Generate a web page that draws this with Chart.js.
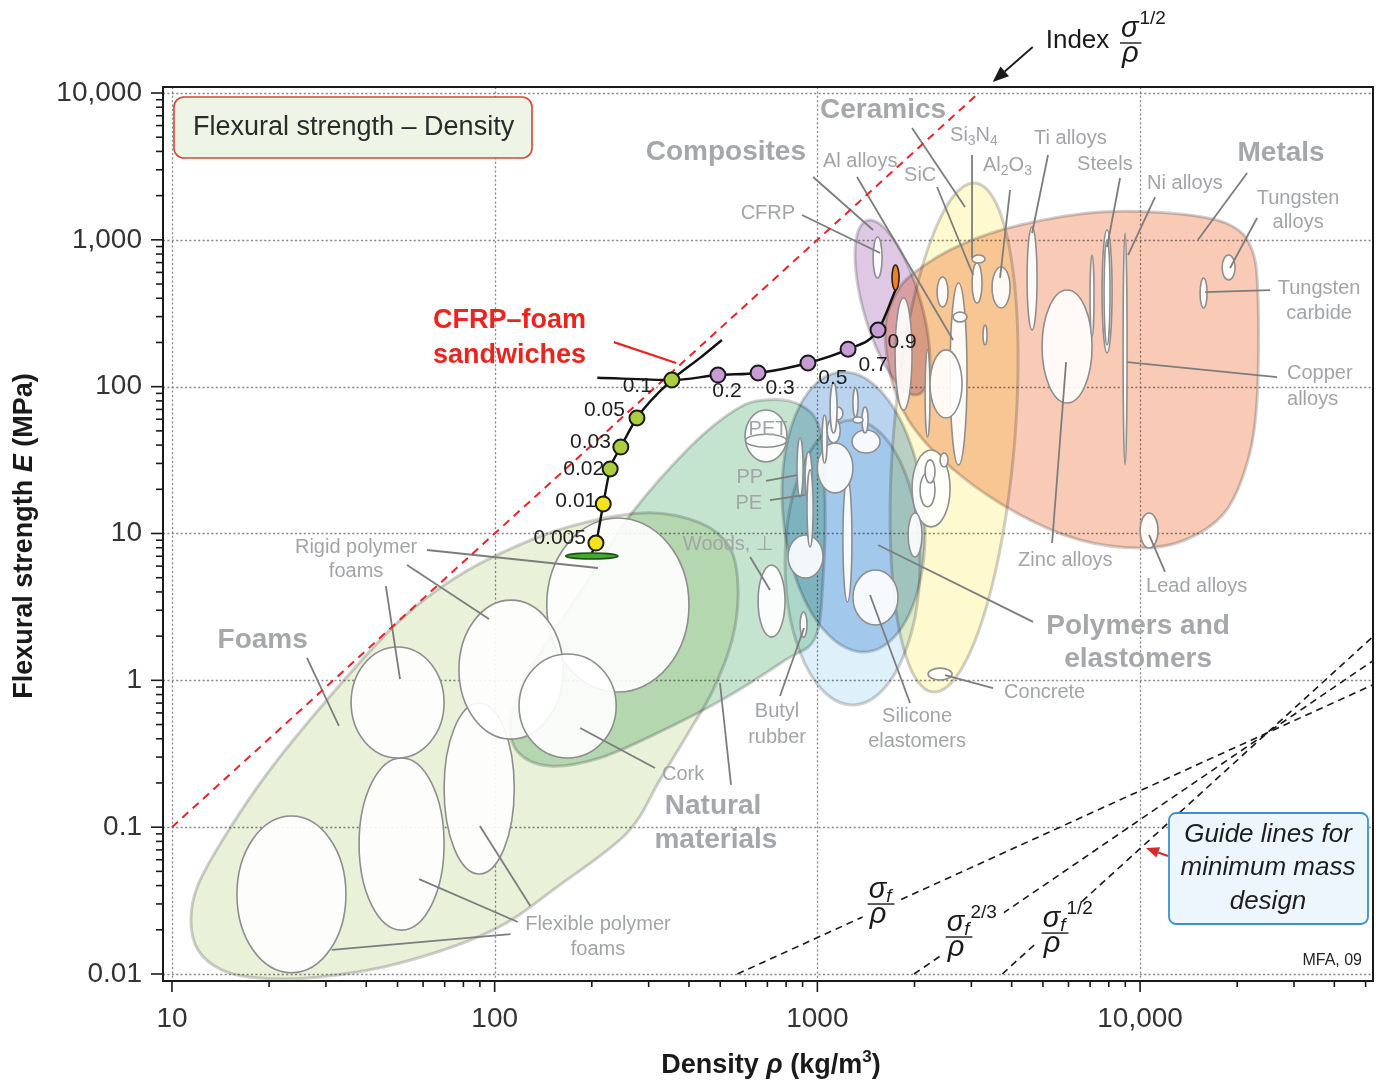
<!DOCTYPE html>
<html>
<head>
<meta charset="utf-8">
<title>Flexural strength – Density</title>
<script src="https://cdn.jsdelivr.net/npm/chart.js@4.4.1/dist/chart.umd.min.js"></script>
<style>
  html, body { margin: 0; padding: 0; background: #ffffff; }
  canvas { display: block; }
</style>
</head>
<body>
<canvas id="chart" width="1383" height="1090"></canvas>
<script>
// ---- Axis ranges and ticks (density in kg/m3, flexural strength in MPa) ----
const densityRange = [9.38, 52700];
const strengthRange = [0.00896, 10986];
const densityTicks = [10, 100, 1000, 10000];
const densityTickLabels = ['10', '100', '1000', '10,000'];
const strengthTicks = [0.01, 0.1, 1, 10, 100, 1000, 10000];
const strengthTickLabels = ['0.01', '0.1', '1', '10', '100', '1,000', '10,000'];

// ---- Family envelopes given by their property ranges (drawn as ellipses) ----
const familyNames = ['Elastomers', 'Polymers', 'Composites', 'Ceramics'];
const familyDensity = [[794, 2080], [777, 2157], [1308, 2234], [1680, 4188]];
const familyStrength = [[0.679, 59.3], [1.56, 126], [87.7, 1364], [0.832, 2438]];
const familyTilt = [0, -8, -37, 18];

// ---- Family envelopes traced as closed outlines (density, strength) ----
const foamsDensity = [288, 433, 536, 568, 544, 475, 403, 325, 257, 159, 98.8, 50.9, 28.8, 18.7, 14.3, 12.04, 11.45, 12.04, 14.8, 20.1, 30.2, 48.4, 67.7, 98.8, 165];
const foamsStrength = [13.8, 11.8, 7.96, 4.12, 1.88, 0.859, 0.459, 0.210, 0.0912, 0.0404, 0.0199, 0.01188, 0.00954, 0.00939, 0.01064, 0.0146, 0.0233, 0.0404, 0.0912, 0.245, 0.735, 2.31, 4.25, 6.92, 10.9];
const naturalDensity = [688, 884, 1019, 1056, 1041, 984, 794, 525, 325, 212, 148, 118, 112, 126, 165, 212, 266, 403, 556];
const naturalStrength = [81.2, 75.0, 50.7, 16.9, 4.82, 1.94, 1.37, 0.770, 0.445, 0.296, 0.261, 0.325, 0.537, 1.087, 2.79, 6.39, 13.8, 38.8, 69.3];
const metalsDensity = [1621, 1741, 2008, 2768, 4247, 7516, 13302, 19006, 22241, 23214, 23048, 21613, 18339, 13786, 10000, 6516, 4247, 2768, 2008, 1716];
const metalsStrength = [243, 421, 604, 922, 1262, 1547, 1499, 1262, 852, 389, 81.2, 31.7, 14.0, 9.03, 7.96, 9.03, 13.4, 25.0, 50.7, 102.6];

// ---- Individual material bubbles: density range and strength range ----
const bubbleDensity = [
  [145, 400], [15.9, 34.6], [38.0, 69.7], [69.7, 115], [35.9, 69.7], [77.5, 163], [119, 238],
  [597, 805], [655, 794], [884, 929],
  [1289, 1778], [811, 1041], [1200, 1280], [865, 903], [916, 963], [929, 970], [1000, 1289], [1072, 1177],
  [1280, 1564], [1118, 1200], [1095, 1151], [1289, 1337], [1375, 1436], [1289, 1385], [1034, 1072],
  [1965, 2577], [2080, 2315], [2157, 2315], [2400, 2541], [1910, 2110],
  [1488, 1587],
  [1741, 1965], [2157, 2234], [2577, 2909], [2234, 2807], [2349, 2541], [2633, 2909], [3015, 3238], [3015, 3308], [3478, 3955], [3261, 3356],
  [4465, 4795], [4969, 7100], [6998, 7200], [7624, 8189], [7734, 8072], [8858, 9115], [15346, 16131], [17955, 19700], [10000, 11370], [2203, 2615]
];
const bubbleStrength = [
  [0.832, 12.75], [0.0102, 0.119], [0.0199, 0.296], [0.048, 0.701], [0.296, 1.686], [0.398, 3.52], [0.296, 1.511],
  [30.7, 69.3], [1.97, 6.10], [1.97, 2.92],
  [2.38, 5.64], [4.98, 9.77], [3.42, 23.9], [17.7, 44.7], [16.9, 35.9], [8.09, 27.1], [18.9, 41.3], [41.3, 61.2],
  [35.3, 50.7], [59.3, 72.7], [48.3, 106], [62.1, 97.9], [48.3, 72.7], [56.6, 62.1], [30.2, 64.1],
  [11.1, 37.0], [15.2, 25.8], [22.1, 31.7], [28.4, 35.3], [6.92, 13.8],
  [550, 1045],
  [69.3, 402], [45.4, 178], [29.3, 508], [61.2, 178], [349, 558], [276, 322], [371, 695], [695, 788], [343, 653], [192, 263],
  [243, 1223], [77.4, 455], [218, 788], [170, 1167], [192, 1000], [29.3, 1113], [343, 550], [533, 788], [7.96, 13.8], [1.005, 1.21]
];
const petBubble = 7;

// ---- CFRP–foam sandwich: face-thickness fraction, density, strength ----
const faceFraction = ['0.005', '0.01', '0.02', '0.03', '0.05', '0.1', '0.2', '0.3', '0.5', '0.7', '0.9'];
const sandwichDensity = [206, 217, 228, 246, 276, 354, 492, 655, 935, 1245, 1542];
const sandwichStrength = [8.61, 15.9, 27.5, 38.8, 61.2, 111, 120, 124, 145, 180, 243];
const foamCoreDensity = [166, 241];
const foamCoreStrength = [6.70, 7.36];
const cfrpFaceDensity = [1703, 1791];
const cfrpFaceStrength = [455, 674];
const coreTrendDensity = [433, 506];
const coreTrendStrength = [157, 208];
const faceTrendDensity = [208];
const faceTrendStrength = [115];

// ---- Index line sigma^1/2 / rho and minimum-mass guide lines ----
const indexLineDensity = [10, 3162];
const indexLineStrength = [0.1, 10000];
const guideExponent = ['', '2/3', '1/2'];
const guideDensity = [[565, 52700], [1992, 52700], [3741, 52700]];
const guideStrength = [[0.01, 0.933], [0.01, 1.361], [0.01, 1.985]];
const guideLabelDensity = [1575, 2748, 5452];
const guideLabelStrength = [0.02996, 0.01786, 0.0190];

// ---- Annotation text and anchors (density, strength) ----
const groupLabels = ['Ceramics', 'Composites', 'Metals', 'Foams', 'Natural', 'materials', 'Polymers and', 'elastomers'];
const groupLabelDensity = [1019, 922, 27350, 19.1, 475, 485, 9858, 9858];
const groupLabelStrength = [7660, 3965, 3903, 1.88, 0.139, 0.0818, 2.34, 1.40];
const groupLabelAlign = ['left', 'right', 'center', 'center', 'center', 'center', 'center', 'center'];

const materialLabels = ['CFRP', 'Al alloys', 'SiC', 'Si_3N_4', 'Al_2O_3', 'Ti alloys', 'Steels', 'Ni alloys',
  'Tungsten', 'alloys', 'Tungsten', 'carbide', 'Copper', 'alloys', 'Zinc alloys', 'Lead alloys', 'Concrete',
  'Silicone', 'elastomers', 'Butyl', 'rubber', 'Cork', 'Woods, ⊥', 'PP', 'PE', 'PET',
  'Rigid polymer', 'foams', 'Flexible polymer', 'foams'];
const materialLabelDensity = [853, 1041, 1856, 2577, 3261, 4693, 6378, 10513,
  30880, 30880, 35870, 35870, 28540, 28540, 4188, 10437, 3789,
  2037, 2037, 750, 750, 330, 383, 679, 674, 703,
  37.2, 37.2, 209, 209];
const materialLabelStrength = [1523, 3443, 2764, 5176, 3232, 4862, 3283, 2401,
  1927, 1322, 463, 317.5, 122, 82.4, 6.60, 4.39, 0.832,
  0.563, 0.386, 0.609, 0.411, 0.230, 8.48, 23.9, 16.1, 50.7,
  8.09, 5.47, 0.0216, 0.0148];
const materialLabelAlign = ['right', 'left', 'left', 'left', 'left', 'left', 'left', 'left',
  'center', 'center', 'center', 'center', 'left', 'left', 'left', 'left', 'left',
  'center', 'center', 'center', 'center', 'left', 'left', 'right', 'right', 'center',
  'center', 'center', 'center', 'center'];

const leaderDensity = [[896, 1564], [1327, 2633], [970, 1488], [1965, 2868], [2349, 3037], [3015, 3015], [3955, 3682],
  [5186, 4627], [8670, 7901], [11130, 9180], [21460, 15120], [23050, 19006], [25290, 15900], [26580, 9115],
  [5338, 5898], [11950, 10665], [4660, 1542], [3502, 2487], [1937, 1456], [766, 909], [314, 184], [540, 499],
  [619, 713], [693, 865], [713, 916], [61.7, 209], [53.5, 96.0], [46.0, 50.9], [26.2, 32.9],
  [118, 58.3], [129, 90], [112, 31.3]];
const leaderStrength = [[1476, 813], [2679, 208], [2679, 1167], [5776, 1673], [2290, 576], [3782, 752], [2184, 550],
  [3782, 1113], [2637, 894], [1957, 788], [2852, 1000], [1408, 643], [455, 441], [116, 147],
  [8.61, 147], [5.47, 9.77], [2.50, 8.35], [0.886, 1.087], [0.701, 3.81], [0.782, 2.27], [0.253, 0.473], [0.194, 0.959],
  [6.92, 4.12], [22.8, 25.0], [16.9, 18.3], [7.72, 5.82], [6.10, 2.62], [4.39, 1.02], [1.42, 0.489],
  [0.0226, 0.0443], [0.0290, 0.102], [0.0187, 0.0146]];

const sandwichTitle = ['CFRP–foam', 'sandwiches'];
const sandwichTitleDensity = [64.4, 64.4];
const sandwichTitleStrength = [280, 164];
const sandwichLeaderDensity = [234, 365];
const sandwichLeaderStrength = [201, 145];

// ---- Styling ----
const FONT = '"Liberation Sans", Arial, Helvetica, sans-serif';
const font = (size, style) => (style ? style + ' ' : '') + size + 'px ' + FONT;
const familyFill = ['rgb(222,241,251)', 'rgb(186,212,240)', 'rgb(222,200,228)', 'rgb(254,249,206)'];
const foamsFill = 'rgb(233,241,216)';
const naturalFill = 'rgb(197,228,207)';
const metalsFill = 'rgb(249,203,182)';
const fractionColor = ['#f4e31c', '#f4e31c', '#abce3c', '#abce3c', '#abce3c', '#abce3c', '#c79bd3', '#c79bd3', '#c79bd3', '#c79bd3', '#c79bd3'];
const fractionLabelOffset = [[-10, -5, 'right'], [-7, -3, 'right'], [-6, 0, 'right'], [-10, -5, 'right'], [-12, -8, 'right'],
  [-20, 6, 'right'], [9, 16, 'center'], [22, 15, 'center'], [25, 15, 'center'], [25, 16, 'center'], [24, 12, 'center']];

// ---- Drawing helpers ----
function toPx(chart, d, s) {
  return [chart.scales.x.getPixelForValue(d), chart.scales.y.getPixelForValue(s)];
}
function boxFromRanges(chart, dr, sr) {
  const x1 = chart.scales.x.getPixelForValue(dr[0]), x2 = chart.scales.x.getPixelForValue(dr[1]);
  const y1 = chart.scales.y.getPixelForValue(sr[0]), y2 = chart.scales.y.getPixelForValue(sr[1]);
  return { cx: (x1 + x2) / 2, cy: (y1 + y2) / 2, rx: Math.abs(x2 - x1) / 2, ry: Math.abs(y2 - y1) / 2 };
}
// ellipse inscribed in a property box; tilt skews it along the diagonal
function rangeEllipse(ctx, chart, dr, sr, tiltDeg) {
  const b = boxFromRanges(chart, dr, sr);
  ctx.beginPath();
  if (!tiltDeg) { ctx.ellipse(b.cx, b.cy, b.rx, b.ry, 0, 0, Math.PI * 2); return; }
  const t0 = tiltDeg * Math.PI / 180;
  for (let i = 0; i <= 160; i++) {
    const t = i / 160 * Math.PI * 2;
    const X = b.cx + b.rx * Math.cos(t), Y = b.cy - b.ry * Math.sin(t + t0);
    if (i === 0) ctx.moveTo(X, Y); else ctx.lineTo(X, Y);
  }
  ctx.closePath();
}
// smooth closed curve through outline points
function smoothOutline(ctx, chart, dens, str) {
  const p = dens.map((d, i) => toPx(chart, d, str[i]));
  const n = p.length;
  ctx.beginPath();
  ctx.moveTo(p[0][0], p[0][1]);
  for (let i = 0; i < n; i++) {
    const p0 = p[(i - 1 + n) % n], p1 = p[i], p2 = p[(i + 1) % n], p3 = p[(i + 2) % n];
    ctx.bezierCurveTo(p1[0] + (p2[0] - p0[0]) / 6, p1[1] + (p2[1] - p0[1]) / 6,
                      p2[0] - (p3[0] - p1[0]) / 6, p2[1] - (p3[1] - p1[1]) / 6, p2[0], p2[1]);
  }
  ctx.closePath();
}
// text with single-character subscripts written as _x
function drawRich(ctx, s, x, y, size, align, color, weight) {
  const parts = [];
  for (let i = 0; i < s.length; i++) {
    if (s[i] === '_') { parts.push({ t: s[i + 1], sub: true }); i++; }
    else if (parts.length && !parts[parts.length - 1].sub) parts[parts.length - 1].t += s[i];
    else parts.push({ t: s[i], sub: false });
  }
  const fMain = font(size, weight), fSub = font(Math.round(size * 0.68), weight);
  let w = 0;
  parts.forEach(p => { ctx.font = p.sub ? fSub : fMain; p.w = ctx.measureText(p.t).width; w += p.w; });
  let x0 = align === 'left' ? x : align === 'right' ? x - w : x - w / 2;
  ctx.fillStyle = color; ctx.textAlign = 'left'; ctx.textBaseline = 'middle';
  parts.forEach(p => { ctx.font = p.sub ? fSub : fMain; ctx.fillText(p.t, x0, p.sub ? y + size * 0.32 : y); x0 += p.w; });
}
function drawRuns(ctx, runs, x, y) {
  let total = 0;
  runs.forEach(r => { ctx.font = r.f; r.w = ctx.measureText(r.t).width; total += r.w; });
  let cx = x - total / 2;
  runs.forEach(r => { ctx.font = r.f; ctx.fillText(r.t, cx, y + (r.dy || 0)); cx += r.w; });
}
function roundRect(ctx, x, y, w, h, r) {
  ctx.beginPath();
  ctx.moveTo(x + r, y); ctx.lineTo(x + w - r, y); ctx.arcTo(x + w, y, x + w, y + r, r);
  ctx.lineTo(x + w, y + h - r); ctx.arcTo(x + w, y + h, x + w - r, y + h, r);
  ctx.lineTo(x + r, y + h); ctx.arcTo(x, y + h, x, y + h - r, r);
  ctx.lineTo(x, y + r); ctx.arcTo(x, y, x + r, y, r);
  ctx.closePath();
}
function arrow(ctx, x1, y1, x2, y2, color, lw, head, width) {
  const ang = Math.atan2(y2 - y1, x2 - x1);
  const bx = x2 - head * Math.cos(ang), by = y2 - head * Math.sin(ang);
  ctx.strokeStyle = color; ctx.fillStyle = color; ctx.lineWidth = lw;
  ctx.beginPath(); ctx.moveTo(x1, y1); ctx.lineTo(bx, by); ctx.stroke();
  ctx.beginPath(); ctx.moveTo(x2, y2);
  ctx.lineTo(bx + width / 2 * Math.sin(ang), by - width / 2 * Math.cos(ang));
  ctx.lineTo(bx - width / 2 * Math.sin(ang), by + width / 2 * Math.cos(ang));
  ctx.closePath(); ctx.fill();
}
// sigma_f^(n) over rho, with its bar centred on (cx, cy)
function drawFraction(ctx, cx, cy, sup, withSub, erase) {
  ctx.font = font(29, 'italic'); const ws = ctx.measureText('σ').width;
  ctx.font = font(19, 'italic'); const wf = withSub ? ctx.measureText('f').width : 0;
  ctx.font = font(19); const wsup = sup ? ctx.measureText(sup).width : 0;
  const barW = ws + wf + 4;
  const x0 = cx - barW / 2;
  if (erase) { ctx.fillStyle = '#ffffff'; ctx.fillRect(x0 - 5, cy - 31, barW + wsup + 10, 58); }
  ctx.fillStyle = '#1a1a1a'; ctx.textAlign = 'left'; ctx.textBaseline = 'alphabetic';
  ctx.font = font(29, 'italic'); ctx.fillText('σ', x0 + 1, cy - 6);
  if (withSub) { ctx.font = font(19, 'italic'); ctx.fillText('f', x0 + ws + 1, cy - 2); }
  if (sup) { ctx.font = font(19); ctx.fillText(sup, x0 + ws + wf + 2, cy - 19); }
  ctx.font = font(29, 'italic'); ctx.fillText('ρ', x0 + 2, cy + 19);
  ctx.strokeStyle = '#1a1a1a'; ctx.lineWidth = 1.4;
  ctx.beginPath(); ctx.moveTo(x0, cy); ctx.lineTo(x0 + barW, cy); ctx.stroke();
}

// ---- Background layers: grid, envelopes, bubbles, annotations ----
const ashbyLayers = {
  id: 'ashbyLayers',
  beforeDraw(chart) {
    const c = chart.ctx;
    c.save(); c.fillStyle = '#ffffff'; c.fillRect(0, 0, chart.width, chart.height); c.restore();
  },
  beforeDatasetsDraw(chart) {
    const ctx = chart.ctx, a = chart.chartArea, xs = chart.scales.x, ys = chart.scales.y;
    ctx.save();
    ctx.beginPath(); ctx.rect(a.left, a.top, a.width, a.height); ctx.clip();

    // dotted decade grid
    ctx.strokeStyle = 'rgba(115,115,115,0.85)'; ctx.lineWidth = 1.3; ctx.setLineDash([2, 2.4]);
    densityTicks.forEach(v => {
      const p = Math.round(xs.getPixelForValue(v)) + 0.5;
      ctx.beginPath(); ctx.moveTo(p, a.top); ctx.lineTo(p, a.bottom); ctx.stroke();
    });
    strengthTicks.forEach(v => {
      const p = Math.round(ys.getPixelForValue(v)) + 0.5;
      ctx.beginPath(); ctx.moveTo(a.left, p); ctx.lineTo(a.right, p); ctx.stroke();
    });
    ctx.setLineDash([]);

    // envelopes, blended so overlaps darken
    const paths = [
      () => smoothOutline(ctx, chart, foamsDensity, foamsStrength),
      () => smoothOutline(ctx, chart, naturalDensity, naturalStrength),
      () => rangeEllipse(ctx, chart, familyDensity[0], familyStrength[0], familyTilt[0]),
      () => rangeEllipse(ctx, chart, familyDensity[1], familyStrength[1], familyTilt[1]),
      () => rangeEllipse(ctx, chart, familyDensity[2], familyStrength[2], familyTilt[2]),
      () => rangeEllipse(ctx, chart, familyDensity[3], familyStrength[3], familyTilt[3]),
      () => smoothOutline(ctx, chart, metalsDensity, metalsStrength)
    ];
    const fills = [foamsFill, naturalFill, familyFill[0], familyFill[1], familyFill[2], familyFill[3], metalsFill];
    ctx.globalCompositeOperation = 'multiply';
    paths.forEach((p, i) => { p(); ctx.fillStyle = fills[i]; ctx.fill(); });
    ctx.lineWidth = 3; ctx.strokeStyle = 'rgb(208,208,208)';
    paths.forEach(p => { p(); ctx.stroke(); });
    ctx.globalCompositeOperation = 'source-over';

    // material bubbles
    bubbleDensity.forEach((dr, i) => {
      rangeEllipse(ctx, chart, dr, bubbleStrength[i], 0);
      ctx.fillStyle = 'rgba(255,255,255,0.9)'; ctx.fill();
      ctx.strokeStyle = '#8e8e8e'; ctx.lineWidth = 1.6; ctx.stroke();
    });
    const pet = boxFromRanges(chart, bubbleDensity[petBubble], bubbleStrength[petBubble]);
    ctx.beginPath(); ctx.ellipse(pet.cx, pet.cy + pet.ry * 0.18, pet.rx * 0.98, pet.ry * 0.25, 0, 0, Math.PI * 2);
    ctx.strokeStyle = '#8e8e8e'; ctx.lineWidth = 1.5; ctx.stroke();

    // leader lines
    ctx.strokeStyle = '#7d7d7d'; ctx.lineWidth = 1.8;
    leaderDensity.forEach((dr, i) => {
      const p1 = toPx(chart, dr[0], leaderStrength[i][0]), p2 = toPx(chart, dr[1], leaderStrength[i][1]);
      ctx.beginPath(); ctx.moveTo(p1[0], p1[1]); ctx.lineTo(p2[0], p2[1]); ctx.stroke();
    });
    ctx.restore();

    // material and family labels
    ctx.save();
    materialLabels.forEach((t, i) => {
      const p = toPx(chart, materialLabelDensity[i], materialLabelStrength[i]);
      drawRich(ctx, t, p[0], p[1], 20, materialLabelAlign[i], '#a2a4a7', '');
    });
    groupLabels.forEach((t, i) => {
      const p = toPx(chart, groupLabelDensity[i], groupLabelStrength[i]);
      drawRich(ctx, t, p[0], p[1], 28, groupLabelAlign[i], '#a5a7aa', 'bold');
    });
    ctx.restore();
  },
  afterDatasetsDraw(chart) {
    const ctx = chart.ctx, a = chart.chartArea, xs = chart.scales.x, ys = chart.scales.y;
    ctx.save();

    // foam core and CFRP face end markers
    let b = boxFromRanges(chart, foamCoreDensity, foamCoreStrength);
    ctx.beginPath(); ctx.ellipse(b.cx, b.cy, b.rx, Math.max(b.ry, 2.5), 0, 0, Math.PI * 2);
    ctx.fillStyle = '#44a833'; ctx.fill(); ctx.strokeStyle = '#1d4f14'; ctx.lineWidth = 1.6; ctx.stroke();
    b = boxFromRanges(chart, cfrpFaceDensity, cfrpFaceStrength);
    ctx.beginPath(); ctx.ellipse(b.cx, b.cy, b.rx, b.ry, 0, 0, Math.PI * 2);
    ctx.fillStyle = '#f08219'; ctx.fill(); ctx.strokeStyle = '#2b2118'; ctx.lineWidth = 1.6; ctx.stroke();

    // face-fraction labels
    const meta = chart.getDatasetMeta(0);
    ctx.fillStyle = '#1e1e1e'; ctx.font = font(21); ctx.textBaseline = 'middle';
    faceFraction.forEach((t, i) => {
      const el = meta.data[i], o = fractionLabelOffset[i];
      ctx.textAlign = o[2];
      ctx.fillText(t, el.x + o[0], el.y + o[1]);
    });

    // guide line labels
    guideExponent.forEach((e, i) => {
      const p = toPx(chart, guideLabelDensity[i], guideLabelStrength[i]);
      drawFraction(ctx, p[0], p[1], e, true, true);
    });

    // sandwich title and pointer
    const l1 = toPx(chart, sandwichLeaderDensity[0], sandwichLeaderStrength[0]);
    const l2 = toPx(chart, sandwichLeaderDensity[1], sandwichLeaderStrength[1]);
    ctx.strokeStyle = '#e8261f'; ctx.lineWidth = 2.2;
    ctx.beginPath(); ctx.moveTo(l1[0], l1[1]); ctx.lineTo(l2[0], l2[1]); ctx.stroke();
    sandwichTitle.forEach((t, i) => {
      const p = toPx(chart, sandwichTitleDensity[i], sandwichTitleStrength[i]);
      drawRich(ctx, t, p[0], p[1], 27, 'left', '#e8261f', 'bold');
    });

    // frame and tick marks
    ctx.strokeStyle = '#1a1a1a'; ctx.lineWidth = 2;
    ctx.strokeRect(a.left, a.top, a.width, a.height);
    ctx.lineWidth = 1.6;
    strengthTicks.forEach(v => {
      const p = ys.getPixelForValue(v);
      ctx.beginPath(); ctx.moveTo(a.left - 12, p); ctx.lineTo(a.left, p); ctx.stroke();
      if (v < 10000) for (let m = 2; m <= 9; m++) {
        const q = ys.getPixelForValue(v * m);
        ctx.beginPath(); ctx.moveTo(a.left - 7, q); ctx.lineTo(a.left, q); ctx.stroke();
      }
    });
    densityTicks.forEach(v => {
      const p = xs.getPixelForValue(v);
      ctx.beginPath(); ctx.moveTo(p, a.bottom); ctx.lineTo(p, a.bottom + 11); ctx.stroke();
      for (let m = 2; m <= 9; m++) {
        if (v * m > densityRange[1]) break;
        const q = xs.getPixelForValue(v * m);
        ctx.beginPath(); ctx.moveTo(q, a.bottom); ctx.lineTo(q, a.bottom + 6); ctx.stroke();
      }
    });

    // title box
    roundRect(ctx, a.left + 11, a.top + 10, 358, 61, 10);
    ctx.fillStyle = '#eff5e6'; ctx.fill();
    ctx.strokeStyle = '#d6463b'; ctx.lineWidth = 1.6; ctx.stroke();
    ctx.fillStyle = '#2b2b2b'; ctx.font = font(27); ctx.textAlign = 'left'; ctx.textBaseline = 'middle';
    ctx.fillText('Flexural strength – Density', a.left + 30, a.top + 41);

    // guide-line note box
    const gx = a.right - 204, gy = a.top + 726;
    roundRect(ctx, gx, gy, 199, 111, 7);
    ctx.fillStyle = '#edf6fd'; ctx.fill();
    ctx.strokeStyle = '#3d8fd1'; ctx.lineWidth = 1.8; ctx.stroke();
    ctx.fillStyle = '#1e1e1e'; ctx.font = font(26, 'italic'); ctx.textAlign = 'center';
    ctx.fillText('Guide lines for', gx + 99, gy + 22);
    ctx.fillText('minimum mass', gx + 99, gy + 55);
    ctx.fillText('design', gx + 99, gy + 89);
    arrow(ctx, gx - 1, gy + 43, gx - 23, gy + 35, '#d42a2a', 2, 13, 11);

    ctx.fillStyle = '#222'; ctx.font = font(16); ctx.textAlign = 'right';
    ctx.fillText('MFA, 09', a.right - 11, a.bottom - 20);

    // index label above the plot
    const ie = toPx(chart, indexLineDensity[1], indexLineStrength[1]);
    arrow(ctx, ie[0] + 54, ie[1] - 46, ie[0] + 14, ie[1] - 11, '#1a1a1a', 1.8, 16, 13);
    ctx.fillStyle = '#1a1a1a'; ctx.font = font(26); ctx.textAlign = 'left'; ctx.textBaseline = 'alphabetic';
    ctx.fillText('Index', ie[0] + 67, ie[1] - 45);
    drawFraction(ctx, ie[0] + 152, ie[1] - 50, '1/2', false, false);

    // axis titles
    ctx.fillStyle = '#1a1a1a'; ctx.textBaseline = 'middle'; ctx.textAlign = 'left';
    ctx.save();
    ctx.translate(25, (a.top + a.bottom) / 2 + 2);
    ctx.rotate(-Math.PI / 2);
    drawRuns(ctx, [
      { t: 'Flexural strength ', f: font(27, 'bold') },
      { t: 'E', f: font(27, 'italic bold') },
      { t: ' (MPa)', f: font(27, 'bold') }
    ], 0, 0);
    ctx.restore();
    drawRuns(ctx, [
      { t: 'Density ', f: font(27, 'bold') },
      { t: 'ρ', f: font(27, 'italic bold') },
      { t: ' (kg/m', f: font(27, 'bold') },
      { t: '3', f: font(17, 'bold'), dy: -9 },
      { t: ')', f: font(27, 'bold') }
    ], (a.left + a.right) / 2 + 3, 1066);

    ctx.restore();
  }
};

// ---- Datasets ----
const sandwichPoints = sandwichDensity.map((d, i) => ({ x: d, y: sandwichStrength[i] }));
const coreBranch = [{ x: Math.sqrt(foamCoreDensity[0] * foamCoreDensity[1]), y: foamCoreStrength[1] }]
  .concat(sandwichPoints.slice(0, 6))
  .concat(coreTrendDensity.map((d, i) => ({ x: d, y: coreTrendStrength[i] })));
const faceBranch = faceTrendDensity.map((d, i) => ({ x: d, y: faceTrendStrength[i] }))
  .concat(sandwichPoints.slice(5))
  .concat([{ x: Math.sqrt(cfrpFaceDensity[0] * cfrpFaceDensity[1]), y: cfrpFaceStrength[0] }]);

const datasets = [
  {
    label: 'CFRP–foam sandwich', data: sandwichPoints, showLine: false,
    pointRadius: 7.5, pointBorderWidth: 2, pointBorderColor: '#1a1a1a', pointBackgroundColor: fractionColor
  },
  {
    label: 'core branch', data: coreBranch, showLine: true, pointRadius: 0,
    borderColor: '#111', borderWidth: 2.4, cubicInterpolationMode: 'monotone'
  },
  {
    label: 'face branch', data: faceBranch, showLine: true, pointRadius: 0,
    borderColor: '#111', borderWidth: 2.4, cubicInterpolationMode: 'monotone'
  },
  {
    label: 'Index', data: indexLineDensity.map((d, i) => ({ x: d, y: indexLineStrength[i] })),
    showLine: true, pointRadius: 0, borderColor: '#e3262b', borderWidth: 2, borderDash: [8, 6]
  }
].concat(guideDensity.map((dr, i) => ({
  label: 'guide ' + (guideExponent[i] || '1'),
  data: dr.map((d, k) => ({ x: d, y: guideStrength[i][k] })),
  showLine: true, pointRadius: 0, borderColor: '#1a1a1a', borderWidth: 1.6, borderDash: [7, 5]
})));

new Chart(document.getElementById('chart'), {
  type: 'scatter',
  data: { datasets },
  options: {
    responsive: false, animation: false, devicePixelRatio: 1, events: [],
    layout: { padding: { top: 87, right: 10, left: 0, bottom: 0 } },
    plugins: { legend: { display: false }, tooltip: { enabled: false } },
    scales: {
      x: {
        type: 'logarithmic', position: 'bottom', min: densityRange[0], max: densityRange[1], bounds: 'data',
        afterBuildTicks: s => { s.ticks = densityTicks.map(v => ({ value: v })); },
        afterFit: s => { s.height = 109; s.paddingLeft = 0; s.paddingRight = 0; },
        grid: { display: true, drawOnChartArea: false, color: 'rgba(0,0,0,0)', tickLength: 10 },
        border: { display: false },
        ticks: {
          autoSkip: false, maxRotation: 0, minRotation: 0, padding: 11, color: '#333',
          font: { family: FONT, size: 28 }, callback: (v, i) => densityTickLabels[i]
        }
      },
      y: {
        type: 'logarithmic', position: 'left', min: strengthRange[0], max: strengthRange[1], bounds: 'data',
        afterBuildTicks: s => { s.ticks = strengthTicks.map(v => ({ value: v })); },
        afterFit: s => { s.width = 163; s.paddingTop = 0; s.paddingBottom = 0; },
        grid: { display: true, drawOnChartArea: false, color: 'rgba(0,0,0,0)', tickLength: 12 },
        border: { display: false },
        ticks: {
          autoSkip: false, padding: 9, color: '#333',
          font: { family: FONT, size: 28 }, callback: (v, i) => strengthTickLabels[i]
        }
      }
    }
  },
  plugins: [ashbyLayers]
});
</script>
</body>
</html>
